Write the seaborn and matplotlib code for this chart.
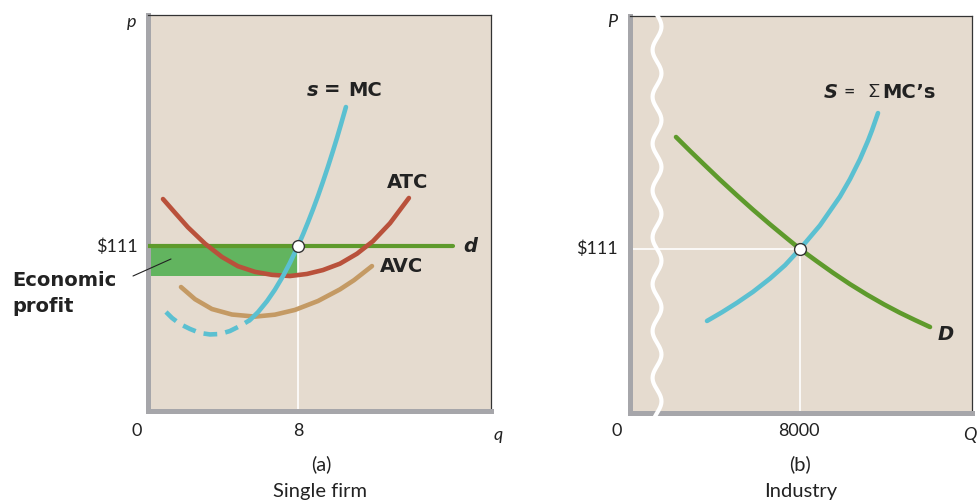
import numpy as np
import matplotlib
matplotlib.use("Agg")
import matplotlib.pyplot as plt
from matplotlib.lines import Line2D
import seaborn as sns

# (a) single firm -- curves (q, price)
mc_dash_q = [0.96, 1.28, 1.71, 2.24, 2.77, 3.31, 3.84, 4.37, 4.91, 5.44]
mc_dash_p = [66.6, 62.6, 58.5, 55.2, 52.5, 51.5, 51.8, 53.8, 57.2, 61.2]
mc_q = [5.44, 5.87, 6.35, 6.77, 7.2, 7.57, 8.0, 8.27, 8.53, 8.8, 9.07, 9.33, 9.6,
        9.87, 10.08, 10.29, 10.56]
mc_p = [61.2, 66.5, 73.9, 81.6, 90.7, 99.6, 111, 118.8, 126.8, 135.5, 144.7, 154.1,
        164.3, 175.0, 183.6, 192.6, 204.5]
atc_q = [0.8, 1.44, 2.13, 3.04, 3.95, 4.8, 5.71, 6.61, 7.57, 8.48, 9.33, 10.24,
         11.15, 12.0, 12.91, 13.92]
atc_p = [142.6, 133.4, 123.6, 112.6, 103.6, 97.4, 93.6, 91.6, 90.8, 92.2, 94.8, 99.1,
         105.8, 114.2, 126.3, 143.3]
avc_q = [1.76, 2.51, 3.41, 4.48, 5.71, 6.77, 7.84, 9.07, 10.24, 10.99, 11.95]
avc_p = [83.4, 75.2, 68.6, 64.9, 63.5, 64.8, 68.0, 74.0, 81.8, 88.0, 97.5]
price = 111
firm_q = 8
atc_at_q = 91
d_end = 16.27

# (b) industry -- (Q, price)
s_Q = [3624, 4329, 5035, 5788, 6588, 7294, 8000, 8941, 9882, 10353, 10824, 11200,
       11388, 11671]
s_P = [62.3, 68.2, 74.6, 82.0, 91.0, 100.0, 111, 127.0, 146.5, 158.3, 171.8, 184.3,
       191.3, 203.0]
d_Q = [2165, 2824, 3435, 4235, 5035, 5788, 6588, 7294, 8000, 8800, 9553, 10353,
       11153, 11953, 12706, 13412, 14118]
d_P = [186.8, 177.4, 168.9, 157.9, 147.3, 137.6, 127.7, 119.3, 111, 102.6, 94.9, 87.2,
       80.1, 73.5, 67.8, 62.9, 58.2]
ind_Q = 8000

sns.set_style("white")
plt.rcParams["font.family"] = ["Lato", "DejaVu Sans"]

BG = "#e5dbcf"
GRAY = "#a6a6aa"
CYAN = "#5bc0d1"
RED = "#b9513b"
TAN = "#c49a64"
OLIVE = "#5e9a2c"
PROFIT = "#62b45f"
INK = "#222222"
W, H = 979, 504


def px(x, y):
    # pixel position -> figure fraction
    return x / W, 1 - y / H


def style_axes(ax):
    ax.set_facecolor(BG)
    ax.set_xticks([])
    ax.set_yticks([])
    ax.set_xlabel("")
    ax.set_ylabel("")
    for side in ["left", "bottom"]:
        ax.spines[side].set_color(GRAY)
        ax.spines[side].set_linewidth(3.6)
    for side in ["top", "right"]:
        ax.spines[side].set_color("#333333")
        ax.spines[side].set_linewidth(0.9)


fig = plt.figure(figsize=(W / 100, H / 100), dpi=100)
ax1 = fig.add_axes([148 / W, 1 - 411 / H, (491 - 148) / W, (411 - 15) / H])
ax2 = fig.add_axes([630 / W, 1 - 413 / H, (972 - 630) / W, (413 - 16) / H])

curve = dict(linewidth=3.3, sort=False, solid_joinstyle="round")

# ---- panel (a)
ax1.fill_between([0, firm_q], atc_at_q, price, color=PROFIT, lw=0, zorder=1)
ax1.plot([firm_q, firm_q], [0, price], color="white", lw=1.2, zorder=2)
sns.lineplot(x=[0, d_end], y=[price, price], ax=ax1, color=OLIVE, linewidth=3.0, zorder=3)
sns.lineplot(x=avc_q, y=avc_p, ax=ax1, color=TAN, zorder=4, **curve)
sns.lineplot(x=atc_q, y=atc_p, ax=ax1, color=RED, zorder=4, **curve)
sns.lineplot(x=mc_dash_q, y=mc_dash_p, ax=ax1, color=CYAN, linewidth=3.3, sort=False,
             linestyle=(0, (3, 1.8)), zorder=5)
sns.lineplot(x=mc_q, y=mc_p, ax=ax1, color=CYAN, zorder=5, **curve)
ax1.plot([firm_q], [price], "o", ms=8.5, mfc="white", mec="#333333", mew=1.0, zorder=6)
ax1.set_xlim(0, 18.3)
ax1.set_ylim(0, 266.4)
style_axes(ax1)

# ---- panel (b)
ax2.plot([0, ind_Q], [price, price], color="white", lw=1.2, zorder=2)
ax2.plot([ind_Q, ind_Q], [0, price], color="white", lw=1.2, zorder=2)
sns.lineplot(x=d_Q, y=d_P, ax=ax2, color=OLIVE, zorder=4, **curve)
sns.lineplot(x=s_Q, y=s_P, ax=ax2, color=CYAN, zorder=5, **curve)
ax2.plot([ind_Q], [price], "o", ms=8.5, mfc="white", mec="#333333", mew=1.0, zorder=6)
ax2.set_xlim(0, 16094)
ax2.set_ylim(0, 268.7)
style_axes(ax2)

# axis-break squiggle (decoration, axes coordinates)
wy = np.linspace(-0.02, 1.005, 400)
wx = 0.079 + 0.013 * np.sin(2 * np.pi * wy / 0.118)
ax2.plot(wx, wy, color="white", lw=3.0, transform=ax2.transAxes, clip_on=False, zorder=10)

# ---- text
reg = dict(fontsize=13, color=INK, ha="center", va="center")
cap = dict(fontsize=14.5, color=INK, ha="center", va="center")
bold = dict(fontsize=14, color=INK, fontweight="bold", va="center", family=["DejaVu Sans"])

fig.text(*px(132, 22), "p", fontstyle="italic", **reg)
fig.text(*px(137, 431), "0", **reg)
fig.text(*px(298, 431), "8", **reg)
fig.text(*px(498, 435), "q", fontstyle="italic", **reg)
fig.text(*px(138, 247), "$111", fontsize=13, color=INK, ha="right", va="center")
fig.text(*px(321, 464), "(a)", **cap)
fig.text(*px(320, 491), "Single firm", **cap)
fig.text(*px(12, 280), "Economic", ha="left", **bold)
fig.text(*px(12, 307), "profit", ha="left", **bold)
fig.add_artist(Line2D([133 / W, 171 / W], [1 - 276 / H, 1 - 259 / H], color=INK, lw=0.8))

fig.text(*px(307, 90), "s", ha="left", fontstyle="italic", **bold)
fig.text(*px(324, 90), "=", ha="left", **bold)
fig.text(*px(348, 90), "MC", ha="left", **bold)
fig.text(*px(387, 182), "ATC", ha="left", **bold)
fig.text(*px(380, 266), "AVC", ha="left", **bold)
fig.text(*px(463, 246), "d", ha="left", fontstyle="italic", **bold)

fig.text(*px(612, 22), "P", fontstyle="italic", **reg)
fig.text(*px(617, 431), "0", **reg)
fig.text(*px(799, 431), "8000", **reg)
fig.text(*px(970, 435), "Q", fontstyle="italic", **reg)
fig.text(*px(618, 249), "$111", fontsize=13, color=INK, ha="right", va="center")
fig.text(*px(800, 464), "(b)", **cap)
fig.text(*px(801, 492), "Industry", **cap)

fig.text(*px(824, 92), "S", ha="left", fontstyle="italic", **bold)
fig.text(*px(844, 92), "=", fontsize=14, color=INK, ha="left", va="center")
fig.text(*px(868, 92), "\u03a3", fontsize=13, color=INK, ha="left", va="center")
fig.text(*px(882, 92), "MC\u2019s", ha="left", **bold)
fig.text(*px(938, 334), "D", ha="left", fontstyle="italic", **bold)

fig.savefig("out.png", dpi=100)
